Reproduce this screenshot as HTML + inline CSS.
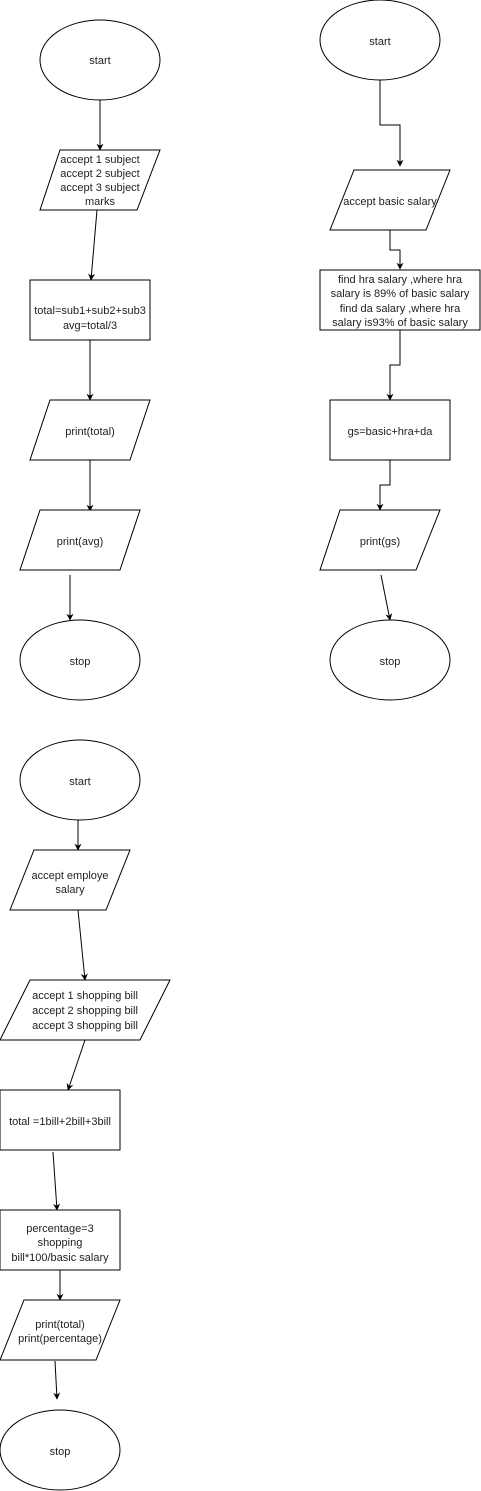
<!DOCTYPE html>
<html><head><meta charset="utf-8"><style>
html,body{margin:0;padding:0;background:#fff;}
svg{display:block;}
text{font-family:"Liberation Sans",Arial,sans-serif;font-size:11px;fill:#222;text-anchor:middle;}
.s{fill:#fff;stroke:#000;stroke-width:1;}
.l{fill:none;stroke:#000;stroke-width:1;}
</style></head><body>
<svg width="481" height="1491" viewBox="0 0 481 1491" xmlns="http://www.w3.org/2000/svg">
<defs><marker id="a" viewBox="0 0 10 10" refX="9" refY="5" markerWidth="7" markerHeight="7" orient="auto"><path d="M0,0 L10,5 L0,10 L3,5 z" fill="#000"/></marker></defs>

<!-- Left flow -->
<ellipse class="s" cx="100" cy="60" rx="60" ry="40"/><text x="100" y="64">start</text>
<path class="l" d="M100,100 L100,150" marker-end="url(#a)"/>
<polygon class="s" points="60,150 160,150 137,210 40,210"/>
<text x="100" y="163">accept 1 subject</text>
<text x="100" y="177">accept 2 subject</text>
<text x="100" y="191">accept 3 subject</text>
<text x="100" y="205">marks</text>
<path class="l" d="M97,210 L91,280" marker-end="url(#a)"/>
<rect class="s" x="30" y="280" width="120" height="60"/>
<text x="90" y="314">total=sub1+sub2+sub3</text>
<text x="90" y="329">avg=total/3</text>
<path class="l" d="M90,340 L90,400" marker-end="url(#a)"/>
<polygon class="s" points="50,400 150,400 130,460 30,460"/><text x="90" y="435">print(total)</text>
<path class="l" d="M90,460 L90,511" marker-end="url(#a)"/>
<polygon class="s" points="40,510 140,510 120,570 20,570"/><text x="80" y="545">print(avg)</text>
<path class="l" d="M70,575 L70,620" marker-end="url(#a)"/>
<ellipse class="s" cx="80" cy="660" rx="60" ry="40"/><text x="80" y="665">stop</text>

<!-- Right flow -->
<ellipse class="s" cx="380" cy="40" rx="60" ry="40"/><text x="380" y="45">start</text>
<path class="l" d="M380,80 L380,125 L400,125 L400,166" marker-end="url(#a)"/>
<polygon class="s" points="354,170 450,170 426,230 330,230"/><text x="390" y="205">accept basic salary</text>
<path class="l" d="M390,230 L390,250 L400,250 L400,269" marker-end="url(#a)"/>
<rect class="s" x="320" y="270" width="160" height="60"/>
<text x="400" y="283">find hra salary  ,where hra</text>
<text x="400" y="297">salary is 89% of basic salary</text>
<text x="400" y="312">find da salary ,where hra</text>
<text x="400" y="326">salary is93% of basic salary</text>
<path class="l" d="M400,330 L400,365 L390,365 L390,400" marker-end="url(#a)"/>
<rect class="s" x="330" y="400" width="120" height="60"/><text x="390" y="435">gs=basic+hra+da</text>
<path class="l" d="M390,460 L390,485 L380,485 L380,510" marker-end="url(#a)"/>
<polygon class="s" points="340,510 440,510 416,570 320,570"/><text x="380" y="545">print(gs)</text>
<path class="l" d="M381,575 L390,620" marker-end="url(#a)"/>
<ellipse class="s" cx="390" cy="660" rx="60" ry="40"/><text x="390" y="665">stop</text>

<!-- Bottom flow -->
<ellipse class="s" cx="80" cy="780" rx="60" ry="40"/><text x="80" y="785">start</text>
<path class="l" d="M78,820 L78,850" marker-end="url(#a)"/>
<polygon class="s" points="34,850 130,850 106,910 10,910"/>
<text x="70" y="879">accept employe</text>
<text x="70" y="893">salary</text>
<path class="l" d="M78,910 L85,980" marker-end="url(#a)"/>
<polygon class="s" points="30,980 170,980 140,1040 0,1040"/>
<text x="85" y="999">accept 1 shopping bill</text>
<text x="85" y="1014">accept 2 shopping bill</text>
<text x="85" y="1029">accept 3 shopping bill</text>
<path class="l" d="M85,1040 L68,1090" marker-end="url(#a)"/>
<rect class="s" x="0" y="1090" width="120" height="60"/><text x="60" y="1125">total =1bill+2bill+3bill</text>
<path class="l" d="M53,1152 L57,1210" marker-end="url(#a)"/>
<rect class="s" x="0" y="1210" width="120" height="60"/>
<text x="60" y="1232">percentage=3</text>
<text x="60" y="1246">shopping</text>
<text x="60" y="1261">bill*100/basic salary</text>
<path class="l" d="M60,1270 L60,1300" marker-end="url(#a)"/>
<polygon class="s" points="24,1300 120,1300 96,1360 0,1360"/>
<text x="60" y="1328">print(total)</text>
<text x="60" y="1342">print(percentage)</text>
<path class="l" d="M55,1361 L57,1399" marker-end="url(#a)"/>
<ellipse class="s" cx="60" cy="1450" rx="60" ry="40"/><text x="60" y="1455">stop</text>
</svg>
</body></html>
